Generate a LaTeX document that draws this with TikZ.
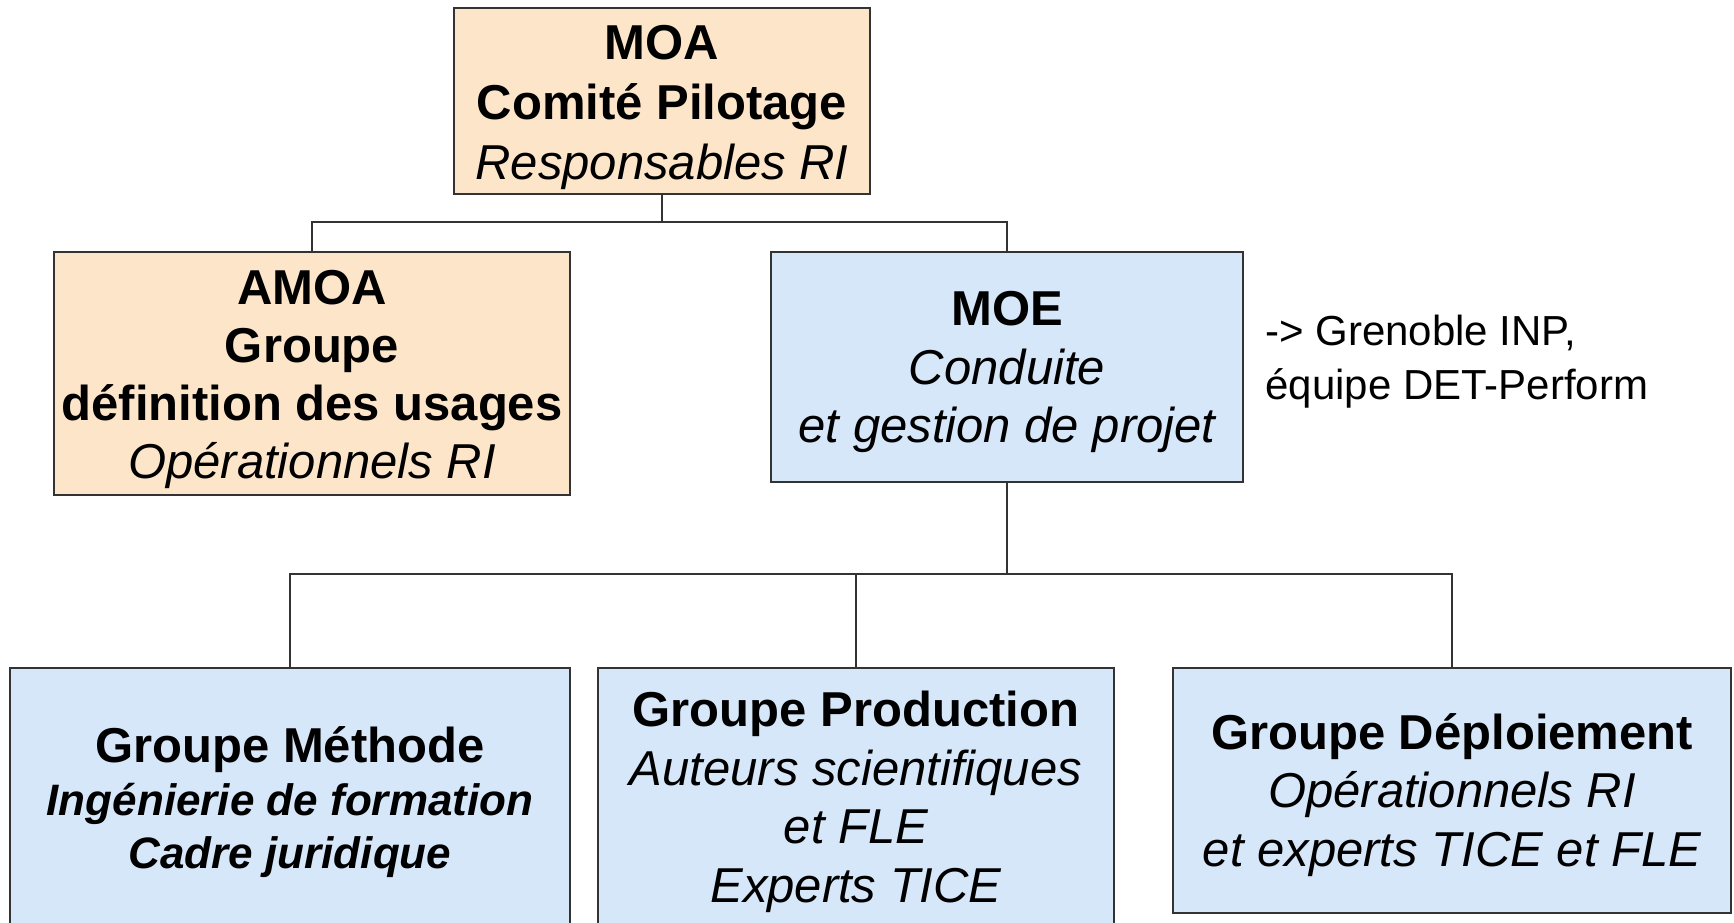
\documentclass[tikz,border=0pt]{standalone}
\usepackage{fontspec}
\setmainfont{Liberation Sans}
\definecolor{peach}{HTML}{FDE5C9}
\definecolor{paleblue}{HTML}{D6E7F9}
\definecolor{edge}{HTML}{333333}
\tikzset{
  boxbase/.style={draw=edge, line width=1pt, inner sep=0pt},
  peachbox/.style={boxbase, fill=peach},
  bluebox/.style={boxbase, fill=paleblue},
  boxtext/.style={inner sep=0pt, align=center,
    font=\fontsize{24.5pt}{29.25pt}\selectfont},
  link/.style={draw=edge, line width=1pt},
  sidenote/.style={inner sep=0pt, align=left, anchor=west,
    font=\fontsize{21pt}{27pt}\selectfont}
}
\begin{document}
\begin{tikzpicture}[x=0.5pt,y=-0.5pt]
\useasboundingbox (0,0) rectangle (1734,922);
\clip (0,0) rectangle (1734,922);
\fill[white] (0,0) rectangle (1734,922);

\node[peachbox, minimum width=208pt, minimum height=93pt] (moa) at (662,101) {};
\node[boxtext, font=\fontsize{24.5pt}{30pt}\selectfont] (moat) at ([yshift=-3pt]moa.center)
  {{\bfseries MOA}\\{\bfseries Comité Pilotage}\\{\itshape Responsables RI}};

\node[peachbox, minimum width=258pt, minimum height=121.5pt] (amoa) at (312,373.5) {};
\node[boxtext, font=\fontsize{24.5pt}{29pt}\selectfont] (amoat) at ([yshift=-3.2pt]amoa.center)
  {{\bfseries AMOA}\\{\bfseries Groupe}\\{\bfseries définition des usages}\\{\itshape Opérationnels RI}};

\node[bluebox, minimum width=236pt, minimum height=115pt] (moe) at (1007,367) {};
\node[boxtext] (moet) at ([yshift=-2.6pt]moe.center)
  {{\bfseries MOE}\\{\itshape Conduite}\\{\itshape et gestion de projet}};

\node[sidenote] (note) at (1265,362) {-> Grenoble INP,\\équipe DET-Perform};

\node[bluebox, minimum width=280pt, minimum height=128.5pt] (methode) at (290,796.5) {};
\node[boxtext, font=\fontsize{22pt}{26.5pt}\selectfont] (methodet) at ([yshift=-3pt]methode.center)
  {{\fontsize{24.5pt}{26.5pt}\selectfont\bfseries Groupe Méthode}\\
   {\bfseries\itshape Ingénierie de formation}\\
   {\bfseries\itshape Cadre juridique}};

\node[bluebox, minimum width=258pt, minimum height=128.5pt] (prod) at (856,796.5) {};
\node[boxtext] (prodt) at ([yshift=-2.6pt]prod.center)
  {{\bfseries Groupe Production}\\{\itshape Auteurs scientifiques}\\{\itshape et FLE}\\{\itshape Experts TICE}};

\node[bluebox, minimum width=279pt, minimum height=122.5pt] (deploi) at (1452,790.5) {};
\node[boxtext] (deploit) at ([yshift=-2.3pt]deploi.center)
  {{\bfseries Groupe Déploiement}\\{\itshape Opérationnels RI}\\{\itshape et experts TICE et FLE}};

\coordinate (j1) at (moa.south |- 0,222);
\coordinate (j2) at (moe.south |- 0,574);

\draw[link] (moa.south) -- (j1);
\draw[link] (amoa.north) |- (j1) -| (moe.north);
\draw[link] (moe.south) -- (j2);
\draw[link] (methode.north) |- (j2) -| (deploi.north);
\draw[link] (prod.north) -- (prod.north |- j2);
\end{tikzpicture}
\end{document}
